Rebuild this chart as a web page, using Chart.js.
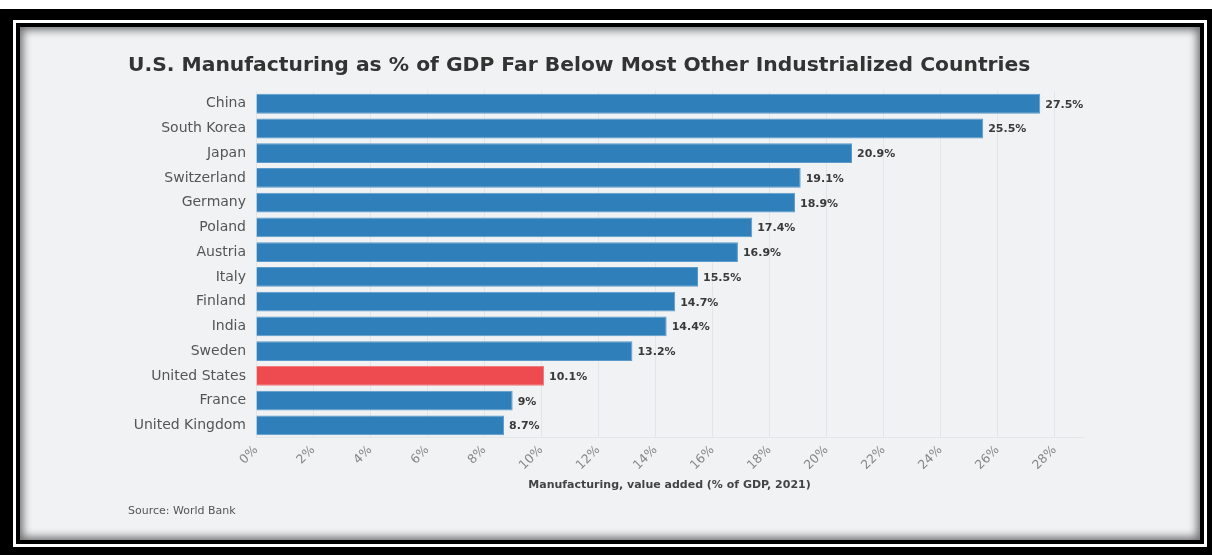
<!DOCTYPE html>
<html>
<head>
<meta charset="utf-8">
<script src="https://cdn.jsdelivr.net/npm/chart.js@4/dist/chart.umd.min.js"></script>
<style>
  html, body { margin: 0; padding: 0; background: #fff; }
  body { width: 1212px; height: 555px; position: relative; overflow: hidden; }
  .frame-outer { position: absolute; left: 0; top: 9px; width: 1212px; height: 546px; background: #000; }
  .frame-line { position: absolute; left: 13px; top: 20px; width: 1188px; height: 521px; border: 3px solid #fff; }
  .frame-inner { position: absolute; left: 16px; top: 23px; width: 1188px; height: 521px; background: #000; }
  .panel {
    position: absolute; left: 20px; top: 27px; width: 1180px; height: 513px;
    background: #f1f2f4;
    box-shadow: inset 0 0 9px 3px rgba(0,0,0,0.55);
  }
  canvas { position: absolute; left: 0; top: 0; }
</style>
</head>
<body>
<div class="frame-outer"></div>
<div class="frame-line"></div>
<div class="frame-inner"></div>
<div class="panel"><canvas id="chart" width="1180" height="513"></canvas></div>
<script>
const countries = [
  "China", "South Korea", "Japan", "Switzerland", "Germany", "Poland", "Austria",
  "Italy", "Finland", "India", "Sweden", "United States", "France", "United Kingdom"
];
const manufacturingShare = [27.5, 25.5, 20.9, 19.1, 18.9, 17.4, 16.9, 15.5, 14.7, 14.4, 13.2, 10.1, 9, 8.7];
const highlightCountry = "United States";

const BLUE = "#2e7fba";
const RED = "#ee4b50";
const FONT = "'DejaVu Sans', 'Open Sans', sans-serif";

// value labels at the end of each bar
const barValueLabels = {
  id: "barValueLabels",
  afterDatasetsDraw(chart) {
    const ctx = chart.ctx;
    const meta = chart.getDatasetMeta(0);
    ctx.save();
    ctx.font = "bold 11px " + FONT;
    ctx.fillStyle = "#3a3a3a";
    ctx.textAlign = "left";
    ctx.textBaseline = "middle";
    meta.data.forEach((bar, i) => {
      ctx.fillText(manufacturingShare[i] + "%", bar.x + 5, bar.y + 1);
    });
    ctx.restore();
  }
};

new Chart(document.getElementById("chart"), {
  type: "bar",
  data: {
    labels: countries,
    datasets: [{
      data: manufacturingShare,
      backgroundColor: countries.map(c => c === highlightCountry ? RED : BLUE),
      borderColor: countries.map(c => c === highlightCountry ? "#f07a7e" : "#5b9acb"),
      borderWidth: 1,
      barPercentage: 0.8,
      categoryPercentage: 1
    }]
  },
  options: {
    indexAxis: "y",
    responsive: false,
    animation: false,
    layout: { padding: { left: 108, right: 117, top: 21, bottom: 18 } },
    plugins: {
      legend: { display: false },
      tooltip: { enabled: false },
      title: {
        display: true,
        text: "U.S. Manufacturing as % of GDP Far Below Most Other Industrialized Countries",
        align: "start",
        color: "#333",
        font: { family: FONT, size: 20.3, weight: "bold" },
        padding: { top: 6, bottom: 13 }
      },
      subtitle: {
        display: true,
        position: "bottom",
        align: "start",
        text: "Source: World Bank",
        color: "#555",
        font: { family: FONT, size: 11 },
        padding: { top: 5, bottom: 4 }
      }
    },
    scales: {
      x: {
        min: 0,
        max: 29,
        afterBuildTicks: scale => { scale.ticks = scale.ticks.filter(t => t.value % 2 === 0); },
        afterFit: scale => { scale.height = 62; },
        ticks: {
          stepSize: 2,
          minRotation: 45,
          maxRotation: 45,
          color: "#888",
          font: { family: FONT, size: 12.5 },
          padding: 5,
          callback: v => v + "%"
        },
        grid: { color: "#e4e5e8", drawTicks: false },
        border: { color: "#e4e5e8" },
        title: {
          display: true,
          text: "Manufacturing, value added (% of GDP, 2021)",
          color: "#444",
          font: { family: FONT, size: 11, weight: "bold" },
          padding: { top: 4, bottom: 8 }
        }
      },
      y: {
        afterFit: scale => { scale.width = 128; },
        ticks: {
          color: "#555",
          font: { family: FONT, size: 14 },
          padding: 10
        },
        grid: { display: false, drawTicks: false },
        border: { display: false }
      }
    }
  },
  plugins: [barValueLabels]
});
</script>
</body>
</html>
